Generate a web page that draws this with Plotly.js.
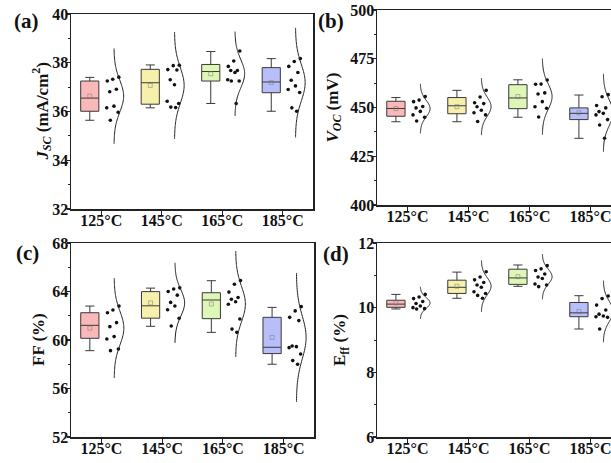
<!DOCTYPE html>
<html>
<head>
<meta charset="utf-8">
<script src="https://cdn.plot.ly/plotly-3.0.1.min.js"></script>
<style>
  html, body { margin: 0; padding: 0; overflow: hidden; background: #fff; }
  #chart { width: 630px; height: 463px; }
</style>
</head>
<body>
<div id="chart"></div>
<script>
// Annealing temperatures (x categories)
const CATEGORIES = ['125°C', '145°C', '165°C', '185°C'];

// (a) J_SC, mA/cm² — individual devices and box statistics
const JSC_POINTS = [
  [37.41, 37.32, 37.25, 36.91, 36.81, 36.22, 36.15, 35.97, 35.64],
  [37.90, 37.88, 37.72, 37.70, 37.30, 37.10, 36.42, 36.33, 36.18, 36.16],
  [38.48, 38.07, 37.85, 37.68, 37.68, 37.60, 37.30, 37.25, 37.25, 36.33],
  [38.17, 38.05, 37.85, 37.60, 37.28, 37.05, 36.90, 36.78, 36.15, 36.01]
];
const JSC_MIN    = [35.64, 36.15, 36.33, 36.01];
const JSC_Q1     = [36.01, 36.30, 37.25, 36.77];
const JSC_MEDIAN = [36.55, 37.18, 37.64, 37.21];
const JSC_Q3     = [37.25, 37.73, 37.93, 37.80];
const JSC_MAX    = [37.40, 37.91, 38.46, 38.17];

// (b) V_OC, mV
const VOC_POINTS = [
  [455.6, 453.8, 453.0, 450.5, 449.8, 448.0, 446.2, 445.0, 443.1],
  [458.8, 455.4, 452.4, 452.0, 450.4, 448.6, 447.3, 446.2, 442.8],
  [464.1, 462.0, 461.9, 457.5, 456.9, 453.0, 450.4, 449.6, 445.1],
  [456.6, 455.5, 451.0, 449.8, 447.9, 447.0, 446.2, 443.8, 441.0, 434.2]
];
const VOC_MIN    = [442.7, 442.7, 445.0, 434.2];
const VOC_Q1     = [445.5, 446.8, 449.4, 443.8];
const VOC_MEDIAN = [449.5, 450.9, 454.9, 447.0];
const VOC_Q3     = [453.2, 455.1, 461.7, 449.8];
const VOC_MAX    = [455.1, 458.8, 464.2, 456.4];

// (c) FF, %
const FF_POINTS = [
  [62.80, 62.47, 62.25, 61.43, 61.10, 60.28, 60.08, 59.26, 59.12],
  [64.30, 64.20, 64.00, 63.70, 63.10, 62.80, 62.50, 61.80, 61.15],
  [64.90, 64.60, 63.95, 63.50, 63.36, 63.15, 62.95, 61.73, 60.90, 60.63],
  [62.75, 62.40, 61.87, 61.60, 59.50, 59.45, 59.37, 58.85, 58.30, 58.00]
];
const FF_MIN    = [59.12, 61.13, 60.63, 58.00];
const FF_Q1     = [60.14, 61.80, 61.76, 58.88];
const FF_MEDIAN = [61.21, 62.82, 63.30, 59.40];
const FF_Q3     = [62.25, 63.99, 63.90, 61.87];
const FF_MAX    = [62.80, 64.28, 64.89, 62.69];

// (d) Efficiency, %
const EFF_POINTS = [
  [10.41, 10.33, 10.28, 10.19, 10.13, 10.05, 10.00, 9.97, 9.96],
  [11.11, 10.95, 10.86, 10.78, 10.70, 10.63, 10.49, 10.44, 10.38, 10.29],
  [11.30, 11.20, 11.15, 11.04, 10.95, 10.90, 10.73, 10.70, 10.65],
  [10.36, 10.28, 10.08, 9.93, 9.80, 9.74, 9.72, 9.70, 9.34]
];
const EFF_MIN    = [9.96, 10.29, 10.66, 9.34];
const EFF_Q1     = [10.01, 10.44, 10.72, 9.72];
const EFF_MEDIAN = [10.11, 10.63, 10.92, 9.84];
const EFF_Q3     = [10.23, 10.85, 11.19, 10.16];
const EFF_MAX    = [10.41, 11.10, 11.32, 10.37];

// ---- styling / geometry ----
const FILLS = ['rgb(250,184,184)', 'rgb(246,240,172)', 'rgb(222,246,182)', 'rgb(184,190,250)'];
const EDGE = '#3a3a3a';
const BOX_SHIFT = -0.19;       // box sits left of the tick
const BOX_WIDTH = 0.30;
const CURVE_BASE = 0.21;       // baseline of the half normal curve, right of the tick
const CURVE_BULGE = 0.16;      // peak width of the curve
const JITTER = [0.29, 0.19, 0.10, 0.25, 0.14, 0.21, 0.09, 0.28, 0.15, 0.23];
const FONT = 'Liberation Serif, Times New Roman, serif';

const W = 630, H = 463;
const panels = [
  { pts: JSC_POINTS, mn: JSC_MIN, q1: JSC_Q1, md: JSC_MEDIAN, q3: JSC_Q3, mx: JSC_MAX,
    range: [32, 40], dtick: 2, title: '<i>J</i><sub><i>SC</i></sub> (mA/cm<sup>2</sup>)',
    px: [71, 313], py: [14, 209], tx: 42, label: '(a)', lx: 12, ly: 21 },
  { pts: VOC_POINTS, mn: VOC_MIN, q1: VOC_Q1, md: VOC_MEDIAN, q3: VOC_Q3, mx: VOC_MAX,
    range: [400, 500], dtick: 25, title: '<i>V</i><sub><i>OC</i></sub> (mV)',
    px: [377, 621], py: [10, 205], tx: 334, label: '(b)', lx: 316, ly: 21 },
  { pts: FF_POINTS, mn: FF_MIN, q1: FF_Q1, md: FF_MEDIAN, q3: FF_Q3, mx: FF_MAX,
    range: [52, 68], dtick: 4, title: 'FF (%)',
    px: [71, 314], py: [243, 437], tx: 38, label: '(c)', lx: 14, ly: 253 },
  { pts: EFF_POINTS, mn: EFF_MIN, q1: EFF_Q1, md: EFF_MEDIAN, q3: EFF_Q3, mx: EFF_MAX,
    range: [6, 12], dtick: 2, title: 'E<sub>ff</sub> (%)',
    px: [377, 621], py: [243, 437], tx: 341, label: '(d)', lx: 321, ly: 254 }
];

function mean(a) { return a.reduce((s, v) => s + v, 0) / a.length; }
function sd(a) {
  const m = mean(a);
  return Math.sqrt(a.reduce((s, v) => s + (v - m) * (v - m), 0) / (a.length - 1));
}

const traces = [];
const layout = {
  width: W, height: H,
  margin: { l: 0, r: 0, t: 0, b: 0 },
  paper_bgcolor: '#fff', plot_bgcolor: '#fff',
  showlegend: false,
  font: { family: FONT, color: '#111' },
  annotations: []
};

panels.forEach((p, pi) => {
  const sfx = pi === 0 ? '' : String(pi + 1);
  const xa = 'x' + sfx, ya = 'y' + sfx;

  p.pts.forEach((vals, ci) => {
    const pos = ci + 1;

    // box with whiskers at min / max
    traces.push({
      type: 'box', orientation: 'v', xaxis: xa, yaxis: ya,
      x: [pos + BOX_SHIFT],
      q1: [p.q1[ci]], median: [p.md[ci]], q3: [p.q3[ci]],
      lowerfence: [p.mn[ci]], upperfence: [p.mx[ci]],
      width: BOX_WIDTH, whiskerwidth: 0.5,
      fillcolor: FILLS[ci], line: { color: EDGE, width: 1 },
      boxpoints: false, hoverinfo: 'skip'
    });

    // mean marker
    traces.push({
      type: 'scatter', mode: 'markers', xaxis: xa, yaxis: ya,
      x: [pos + BOX_SHIFT], y: [mean(vals)],
      marker: { symbol: 'square-open', size: 4, color: 'rgba(120,120,120,0.5)', line: { width: 1 } },
      hoverinfo: 'skip'
    });

    // individual devices
    traces.push({
      type: 'scatter', mode: 'markers', xaxis: xa, yaxis: ya,
      x: vals.map((v, k) => pos + JITTER[k % JITTER.length]), y: vals,
      marker: { size: 3.6, color: '#111' },
      hoverinfo: 'skip'
    });

    // half normal distribution curve fitted to the devices
    const m = mean(vals), s = sd(vals);
    const cx = [], cy = [];
    for (let k = 0; k <= 80; k++) {
      const z = -3 + 6 * k / 80;
      cy.push(m + z * s);
      cx.push(pos + CURVE_BASE + CURVE_BULGE * Math.exp(-0.5 * z * z));
    }
    traces.push({
      type: 'scatter', mode: 'lines', xaxis: xa, yaxis: ya,
      x: cx, y: cy, line: { color: '#222', width: 1, shape: 'spline' },
      hoverinfo: 'skip'
    });
  });

  layout['xaxis' + sfx] = {
    domain: [p.px[0] / W, p.px[1] / W], anchor: ya,
    range: [0.5, 4.5], tickmode: 'array', tickvals: [1, 2, 3, 4], ticktext: CATEGORIES,
    ticks: 'outside', ticklen: 4, tickwidth: 1.2, tickcolor: '#222', ticklabelstandoff: -8,
    showline: true, mirror: true, linecolor: '#222', linewidth: 1.5,
    showgrid: false, zeroline: false, fixedrange: true,
    tickfont: { family: FONT, size: 16, weight: 'bold', color: '#111' }
  };
  layout['yaxis' + sfx] = {
    domain: [1 - p.py[1] / H, 1 - p.py[0] / H], anchor: xa,
    range: p.range, dtick: p.dtick, tick0: p.range[0],
    ticks: 'outside', ticklen: 3, tickwidth: 1.2, tickcolor: '#222', ticklabelstandoff: -5,
    minor: { ticks: 'outside', ticklen: 2, tickwidth: 1, tickcolor: '#222', dtick: p.dtick / 2 },
    showline: true, mirror: true, linecolor: '#222', linewidth: 1.5,
    showgrid: false, zeroline: false, fixedrange: true,
    tickfont: { family: FONT, size: 16, weight: 'bold', color: '#111' }
  };

  // y-axis title
  layout.annotations.push({
    xref: 'paper', yref: 'paper', x: p.tx / W, y: 1 - (p.py[0] + p.py[1]) / 2 / H,
    xanchor: 'center', yanchor: 'middle', textangle: -90, showarrow: false,
    text: '<b>' + p.title + '</b>',
    font: { family: FONT, size: 17, color: '#111' }
  });

  // panel label
  layout.annotations.push({
    xref: 'paper', yref: 'paper', x: p.lx / W, y: 1 - p.ly / H,
    xanchor: 'left', yanchor: 'middle', showarrow: false,
    text: '<b>' + p.label + '</b>',
    font: { family: FONT, size: 21, color: '#111' }
  });
});

Plotly.newPlot('chart', traces, layout, { displayModeBar: false, staticPlot: true });
</script>
</body>
</html>
